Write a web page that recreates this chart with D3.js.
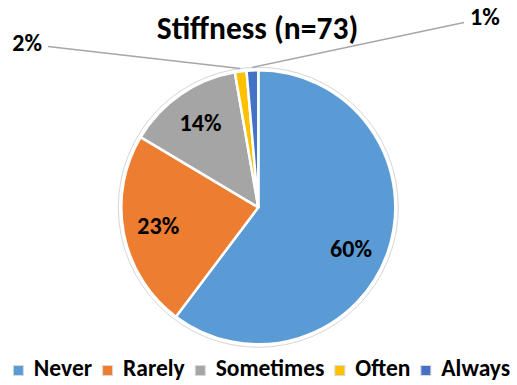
<!DOCTYPE html>
<html>
<head>
<meta charset="utf-8">
<script src="https://cdn.jsdelivr.net/npm/d3@7"></script>
<style>
  html, body { margin: 0; padding: 0; background: #fff; }
  svg { display: block; }
  text { font-family: Carlito, "Open Sans", sans-serif; font-weight: bold; fill: #000; }
</style>
</head>
<body>
<svg id="chart" width="517" height="385"></svg>
<script>
// Respondent counts (n = 73)
const categories = ["Never", "Rarely", "Sometimes", "Often", "Always"];
const values = [44, 17, 10, 1, 1];
const valueLabels = ["60%", "23%", "14%", "2%", "1%"];
const colors = ["#5B9BD5", "#ED7D31", "#A5A5A5", "#FFC000", "#4472C4"];
const title = "Stiffness (n=73)";

const svg = d3.select("#chart");
const cx = 258.3, cy = 207.3, R = 137;

svg.append("text")
  .attr("x", 257.5).attr("y", 38.5)
  .attr("text-anchor", "middle")
  .style("font-size", "31.5px")
  .text(title);

const pie = d3.pie().sort(null).value(d => d)(values);
const arc = d3.arc().innerRadius(0).outerRadius(R);
const g = svg.append("g").attr("transform", `translate(${cx},${cy})`);

// faint outer ring (shadow-like edge)
g.append("circle").attr("r", R + 3).attr("fill", "none")
  .attr("stroke", "#d6d6d6").attr("stroke-width", 1);

g.selectAll("path.slice").data(pie).enter().append("path")
  .attr("class", "slice")
  .attr("d", arc)
  .attr("fill", (d, i) => colors[i])
  .attr("stroke", "#fff").attr("stroke-width", 2.5)
  .attr("stroke-linejoin", "round");

// inside labels
const total = d3.sum(values);
const labelArc = d3.arc().innerRadius(102).outerRadius(102);
const nudge = { 0: [-4, 10] };
pie.forEach((d, i) => {
  if (values[i] / total < 0.05) return;
  let [x, y] = labelArc.centroid(d);
  const n = nudge[i] || [0, 0];
  g.append("text")
    .attr("x", x + n[0]).attr("y", y + n[1] + 7.5)
    .attr("text-anchor", "middle")
    .style("font-size", "24px")
    .text(valueLabels[i]);
});

// outside labels with leader lines
const outside = [
  { i: 3, lx: 48, ly: 46.5, tx: 42, ty: 51, anchor: "end" },
  { i: 4, lx: 464, ly: 22.5, tx: 470, ty: 24.5, anchor: "start" }
];
outside.forEach(o => {
  const d = pie[o.i];
  const a = (d.startAngle + d.endAngle) / 2;
  const ex = cx + (R + 3) * Math.sin(a), ey = cy - (R + 3) * Math.cos(a);
  svg.append("line")
    .attr("x1", o.lx).attr("y1", o.ly).attr("x2", ex).attr("y2", ey)
    .attr("stroke", "#a6a6a6").attr("stroke-width", 1.5);
  svg.append("text")
    .attr("x", o.tx).attr("y", o.ty)
    .attr("text-anchor", o.anchor)
    .style("font-size", "24px")
    .text(valueLabels[o.i]);
});

// legend
const lg = svg.append("g");
let xpos = 0;
categories.forEach((c, i) => {
  const it = lg.append("g");
  it.append("rect").attr("x", xpos + 0.5).attr("y", 365.5).attr("width", 10).attr("height", 10)
    .attr("fill", colors[i]).attr("stroke", "#d9d9d9").attr("stroke-width", 1);
  const t = it.append("text").attr("x", xpos + 21).attr("y", 376)
    .style("font-size", "23.5px").text(c);
  xpos += 21 + t.node().getComputedTextLength() + 10;
});
const legendW = xpos - 10;
lg.attr("transform", `translate(${261.5 - legendW / 2},0)`);
</script>
</body>
</html>
